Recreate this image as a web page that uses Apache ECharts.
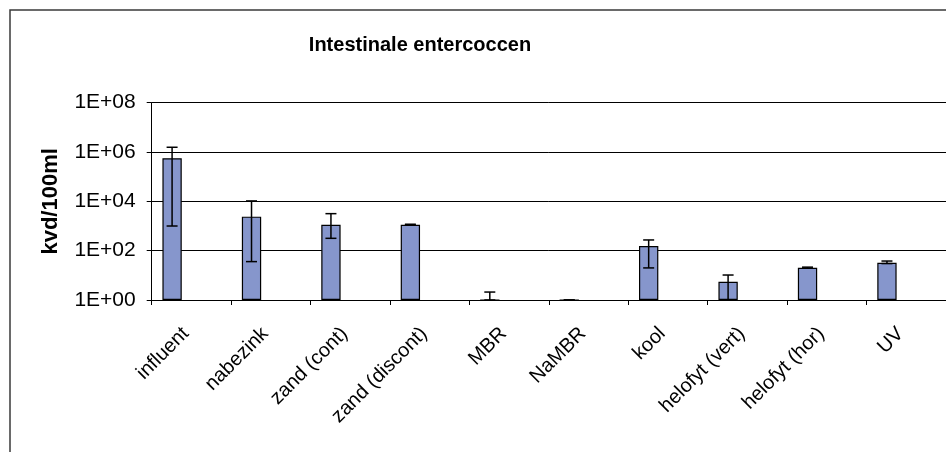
<!DOCTYPE html>
<html>
<head>
<meta charset="utf-8">
<script src="https://cdn.jsdelivr.net/npm/echarts@6/dist/echarts.min.js"></script>
<style>
  html, body { margin: 0; padding: 0; background: #fff; }
  #chart { width: 946px; height: 452px; }
</style>
</head>
<body>
<div id="chart"></div>
<script>
// Treatment steps along the x axis
const categories = ['influent', 'nabezink', 'zand (cont)', 'zand (discont)', 'MBR', 'NaMBR', 'kool', 'helofyt (vert)', 'helofyt (hor)', 'UV'];
// Mean counts (kvd/100ml)
const meanValues = [560000, 2400, 1130, 1130, 1, 1, 155, 5.5, 20.4, 32.6];
// Error bar ends (kvd/100ml)
const errorLow  = [1000, 36, 317, 1080, 1, 1, 20, 1, 19.5, 30];
const errorHigh = [1560000, 10400, 3170, 1180, 2.1, 1, 272, 10.3, 21.5, 38];
// Y axis tick labels, one per two decades
const yTickLabels = ['1E+00', '1E+02', '1E+04', '1E+06', '1E+08'];

const chart = echarts.init(document.getElementById('chart'), null, { renderer: 'canvas' });

const FONT = '"Liberation Sans", Arial, sans-serif';
const CAT_GAP = 0.27;      // barCategoryGap fraction
const SLOTS = 3;           // bar slots per category

const empty = categories.map(() => null);

const option = {
  animation: false,
  backgroundColor: '#fff',
  title: {
    text: 'Intestinale entercoccen',
    left: 415,
    textAlign: 'center',
    top: 30,
    textStyle: { fontFamily: FONT, fontSize: 20, fontWeight: 'bold', color: '#000' }
  },
  graphic: [{
    type: 'rect',
    shape: { x: 10, y: 10, width: 1100, height: 600 },
    style: { fill: 'none', stroke: '#3a3a3a', lineWidth: 1.5 },
    silent: true,
    z: 100
  }],
  grid: { left: 151.7, top: 102.7, width: 795.5, height: 197.3, containLabel: false },
  xAxis: {
    type: 'category',
    data: categories,
    boundaryGap: true,
    axisLine: { lineStyle: { color: '#000', width: 1 } },
    axisTick: { show: true, length: 5, alignWithLabel: false, lineStyle: { color: '#000' } },
    axisLabel: {
      rotate: 45,
      interval: 0,
      margin: 25,
      padding: [0, 8, 0, 0],
      fontFamily: FONT,
      fontSize: 20,
      color: '#000'
    },
    splitLine: { show: false }
  },
  yAxis: {
    type: 'log',
    logBase: 10,
    min: 1,
    max: 1e8,
    interval: 2,
    name: 'kvd/100ml',
    nameLocation: 'middle',
    nameRotate: 90,
    nameGap: 90,
    nameTextStyle: { fontFamily: FONT, fontSize: 22, fontWeight: 'bold', color: '#000' },
    axisLine: { show: true, lineStyle: { color: '#000', width: 1 } },
    axisTick: { show: true, length: 5, lineStyle: { color: '#000' } },
    axisLabel: {
      margin: 16,
      fontFamily: FONT,
      fontSize: 21,
      color: '#000',
      formatter: function (v) {
        const i = Math.round(Math.log10(v) / 2);
        return yTickLabels[i];
      }
    },
    splitLine: { show: true, lineStyle: { color: '#000', width: 1 } }
  },
  series: [
    {
      type: 'bar',
      data: meanValues,
      barGap: '0%',
      barCategoryGap: (CAT_GAP * 100) + '%',
      itemStyle: { color: '#8696CC', borderColor: '#000', borderWidth: 1.2 },
      z: 2
    },
    { type: 'bar', data: empty, silent: true },
    { type: 'bar', data: empty, silent: true },
    {
      type: 'custom',
      data: categories.map((c, i) => [i, errorLow[i], errorHigh[i]]),
      encode: { x: 0, y: [1, 2] },
      z: 5,
      renderItem: function (params, api) {
        const idx = api.value(0);
        const band = api.size([1, 0])[0];
        const barW = band * (1 - CAT_GAP) / SLOTS;
        const lo = api.coord([idx, api.value(1)]);
        const hi = api.coord([idx, api.value(2)]);
        const x = lo[0] - barW;  // centre of the first bar slot
        const cap = 5.5;
        const style = { stroke: '#000', lineWidth: 1.5, fill: null };
        return {
          type: 'group',
          children: [
            { type: 'line', shape: { x1: x, y1: hi[1], x2: x, y2: lo[1] }, style: style },
            { type: 'line', shape: { x1: x - cap, y1: hi[1], x2: x + cap, y2: hi[1] }, style: style },
            { type: 'line', shape: { x1: x - cap, y1: lo[1], x2: x + cap, y2: lo[1] }, style: style }
          ]
        };
      }
    }
  ]
};

chart.setOption(option);
</script>
</body>
</html>
